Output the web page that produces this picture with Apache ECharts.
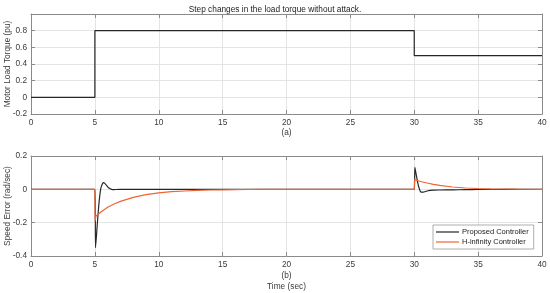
<!DOCTYPE html>
<html>
<head>
<meta charset="utf-8">
<script src="https://cdn.jsdelivr.net/npm/echarts@6/dist/echarts.min.js"></script>
<style>
  html, body { margin: 0; padding: 0; background: #fff; }
  #chart { width: 550px; height: 293px; }
</style>
</head>
<body>
<div id="chart"></div>
<script>
// top panel: load torque step
var loadTime = [0, 5, 5, 30, 30, 40];
var loadTorque = [0, 0, 0.8, 0.8, 0.5, 0.5];

// bottom panel: speed error, proposed controller
var propTime = [0, 5, 5.05, 5.15, 5.3, 5.45, 5.6, 5.7, 5.85, 6.0, 6.2, 6.4, 6.6, 7,
  30, 30.05, 30.15, 30.3, 30.5, 30.7, 31, 31.5, 32, 33, 34, 35, 40];
var propErr = [0, 0, -0.35, -0.25, -0.1, 0.0, 0.035, 0.04, 0.03, 0.015, 0.003, -0.002, -0.001, 0,
  0, 0.132, 0.09, 0.03, -0.015, -0.017, -0.01, -0.005, -0.004, -0.003, -0.002, -0.001, 0];

// bottom panel: speed error, H-infinity controller
var hinfTime = [0, 5, 5.02, 5.08, 5.5, 6, 6.5, 7, 8, 9, 10, 11, 12, 13, 14, 15, 16, 17, 18,
  30, 30.02, 30.5, 31, 31.5, 32, 33, 34, 35, 36, 37, 38, 40];
var hinfErr = [0, 0, -0.19, -0.16, -0.135, -0.108, -0.088, -0.072, -0.048, -0.032, -0.021, -0.014, -0.01, -0.006, -0.004, -0.003, -0.002, -0.001, 0,
  0, 0.058, 0.047, 0.038, 0.03, 0.024, 0.014, 0.008, 0.005, 0.003, 0.002, 0.001, 0];

var xTicks = { min: 0, max: 40, interval: 5 };
var topY = { min: -0.2, max: 1.0, interval: 0.2 };
var botY = { min: -0.4, max: 0.2, interval: 0.2 };

var seriesNames = ['Proposed Controller', 'H-infinity Controller'];
var colors = ['#262626', '#ef6435'];

function zip(xs, ys) {
  return xs.map(function (x, i) { return [x, ys[i]]; });
}

var font = 'Liberation Sans, Arial, sans-serif';
var fs = 8.3;
var boxColor = '#8a8a8a';
var labelColor = '#3a3a3a';

function xAxis(grid, pos, extra) {
  var a = {
    type: 'value', gridIndex: grid, position: pos,
    min: xTicks.min, max: xTicks.max, interval: xTicks.interval,
    axisLine: { show: true, onZero: false, lineStyle: { color: boxColor, width: 1 } },
    axisTick: { show: true, inside: true, length: 4, lineStyle: { color: boxColor } },
    axisLabel: { show: pos === 'bottom', color: labelColor, fontSize: fs, fontFamily: font, margin: 5 },
    splitLine: { show: pos === 'bottom', lineStyle: { color: '#e4e4e4', width: 1 } },
    nameMoveOverlap: false
  };
  return Object.assign(a, extra || {});
}

function yAxis(grid, pos, rng, extra) {
  var a = {
    type: 'value', gridIndex: grid, position: pos,
    min: rng.min, max: rng.max, interval: rng.interval,
    axisLine: { show: true, onZero: false, lineStyle: { color: boxColor, width: 1 } },
    axisTick: { show: true, inside: true, length: 4, lineStyle: { color: boxColor } },
    axisLabel: {
      show: pos === 'left', color: labelColor, fontSize: fs, fontFamily: font, margin: 4,
      formatter: function (v) {
        if (grid === 0 && Math.abs(v - 1) < 1e-9) return '';
        return String(Math.round(v * 10) / 10);
      }
    },
    splitLine: { show: pos === 'left', lineStyle: { color: '#e4e4e4', width: 1 } },
    nameMoveOverlap: false
  };
  return Object.assign(a, extra || {});
}

var myChart = echarts.init(document.getElementById('chart'));
var option = {
  animation: false,
  backgroundColor: '#fff',
  title: {
    text: 'Step changes in the load torque without attack.',
    left: 'center', top: 1,
    textStyle: { fontSize: fs, fontWeight: 'normal', color: '#222', fontFamily: font }
  },
  grid: [
    { left: 31, right: 8, top: 14, height: 100, containLabel: false, outerBoundsMode: 'none' },
    { left: 31, right: 8, top: 156, height: 100, containLabel: false, outerBoundsMode: 'none' }
  ],
  xAxis: [
    xAxis(0, 'bottom', {
      name: '(a)', nameLocation: 'middle', nameGap: 15,
      nameTextStyle: { fontSize: fs, color: labelColor, fontFamily: font }
    }),
    xAxis(0, 'top'),
    xAxis(1, 'bottom', {
      name: '(b)\nTime (sec)', nameLocation: 'middle', nameGap: 14,
      nameTextStyle: { fontSize: fs, color: labelColor, fontFamily: font, lineHeight: 11, verticalAlign: 'top' }
    }),
    xAxis(1, 'top')
  ],
  yAxis: [
    yAxis(0, 'left', topY, {
      name: 'Motor Load Torque (pu)', nameLocation: 'middle', nameGap: 19,
      nameTextStyle: { fontSize: fs, color: labelColor, fontFamily: font }
    }),
    yAxis(0, 'right', topY),
    yAxis(1, 'left', botY, {
      name: 'Speed Error (rad/sec)', nameLocation: 'middle', nameGap: 19,
      nameTextStyle: { fontSize: fs, color: labelColor, fontFamily: font }
    }),
    yAxis(1, 'right', botY)
  ],
  legend: {
    data: seriesNames,
    orient: 'vertical', left: 433, top: 225,
    icon: 'rect', itemWidth: 23, itemHeight: 1.2, itemGap: 2,
    padding: [3, 5, 3, 3],
    backgroundColor: '#fff', borderColor: '#999', borderWidth: 0.8,
    textStyle: { fontSize: 7.5, color: '#222', fontFamily: font, padding: [0, 0, 0, -2] }
  },
  series: [
    {
      name: 'Load Torque', type: 'line', xAxisIndex: 0, yAxisIndex: 0,
      data: zip(loadTime, loadTorque), showSymbol: false,
      lineStyle: { color: colors[0], width: 1.2 }, itemStyle: { color: colors[0] }
    },
    {
      name: seriesNames[0], type: 'line', xAxisIndex: 2, yAxisIndex: 2,
      data: zip(propTime, propErr), showSymbol: false, smooth: 0.2,
      lineStyle: { color: colors[0], width: 1.2 }, itemStyle: { color: colors[0] }
    },
    {
      name: seriesNames[1], type: 'line', xAxisIndex: 2, yAxisIndex: 2,
      data: zip(hinfTime, hinfErr), showSymbol: false,
      lineStyle: { color: colors[1], width: 1.2 }, itemStyle: { color: colors[1] }
    }
  ]
};
myChart.setOption(option);
</script>
</body>
</html>
